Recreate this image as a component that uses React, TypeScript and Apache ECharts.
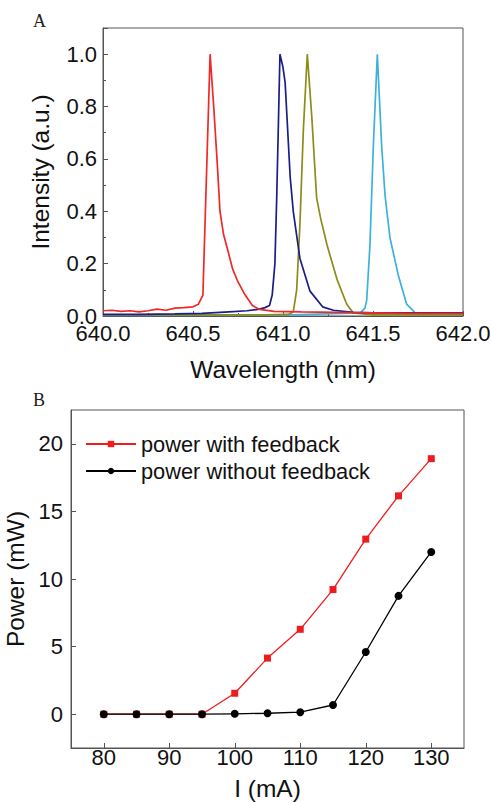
import React, { useEffect, useRef } from "react";
import * as echarts from "echarts";

const redSpectrum: number[][] = [
  [640.0, 0.02], [640.05, 0.022], [640.1, 0.018], [640.15, 0.02], [640.2, 0.016], [640.25, 0.02],
  [640.3, 0.026], [640.35, 0.022], [640.4, 0.03], [640.45, 0.032], [640.5, 0.035], [640.53, 0.045],
  [640.555, 0.08], [640.595, 1.0], [640.615, 0.8], [640.635, 0.58], [640.65, 0.4], [640.67, 0.31],
  [640.69, 0.26], [640.72, 0.18], [640.75, 0.13], [640.79, 0.08], [640.83, 0.04], [640.87, 0.025],
  [640.95, 0.018], [641.1, 0.016], [641.3, 0.014], [641.5, 0.012], [641.7, 0.01], [642.0, 0.01],
];
const navySpectrum: number[][] = [
  [640.0, 0.006], [640.2, 0.006], [640.4, 0.008], [640.55, 0.01], [640.7, 0.016], [640.8, 0.02],
  [640.86, 0.025], [640.9, 0.032], [640.925, 0.04], [640.94, 0.08], [640.955, 0.2], [640.965, 0.45],
  [640.975, 0.75], [640.983, 1.0], [641.0, 0.95], [641.012, 0.89], [641.04, 0.53], [641.057, 0.4],
  [641.094, 0.22], [641.15, 0.095], [641.22, 0.035], [641.28, 0.022], [641.39, 0.014], [641.5, 0.012],
  [641.7, 0.012], [642.0, 0.012],
];
const oliveSpectrum: number[][] = [
  [640.0, 0.004], [640.5, 0.004], [640.9, 0.004], [641.03, 0.006], [641.057, 0.016], [641.076, 0.1],
  [641.094, 0.35], [641.113, 0.71], [641.135, 1.0], [641.16, 0.76], [641.187, 0.45], [641.21, 0.37],
  [641.245, 0.27], [641.3, 0.14], [641.354, 0.045], [641.39, 0.012], [641.5, 0.004], [642.0, 0.004],
];
const cyanSpectrum: number[][] = [
  [640.0, 0.002], [641.0, 0.003], [641.43, 0.012], [641.455, 0.03], [641.465, 0.06], [641.483, 0.27],
  [641.502, 0.65], [641.524, 1.0], [641.548, 0.65], [641.567, 0.46], [641.594, 0.3], [641.64, 0.157],
  [641.687, 0.045], [641.74, 0.008], [642.0, 0.004],
];

const currents = [80, 85, 90, 95, 100, 105, 110, 115, 120, 125, 130];
const powerWithFeedback = [0, 0, 0, 0, 1.55, 4.15, 6.28, 9.22, 12.95, 16.15, 18.9];
const powerWithoutFeedback = [0, 0, 0, 0, 0.03, 0.07, 0.15, 0.68, 4.6, 8.75, 12.0];

const currentTicks = [80, 90, 100, 110, 120, 130];
const powerTicks = [0, 5, 10, 15, 20];

const FONT = "'Liberation Sans', Arial, sans-serif";

export default function App() {
  const ref = useRef<HTMLDivElement>(null);
  useEffect(() => {
    document.body.style.margin = "0";
    const chart = echarts.init(ref.current!, undefined, { renderer: "svg" });
    const axisLine = { show: true, onZero: false, lineStyle: { color: "#555", width: 1 } };
    const label = { color: "#111", fontSize: 22, fontFamily: FONT };
    const nameStyle = { color: "#111", fontSize: 24.5, fontFamily: FONT };
    chart.setOption({
      animation: false,
      backgroundColor: "#fff",
      graphic: [
        { type: "text", left: 33, top: 12, style: { text: "A", font: "18px 'Liberation Serif', 'Times New Roman', serif", fill: "#222" } },
        { type: "text", left: 33, top: 391, style: { text: "B", font: "18px 'Liberation Serif', 'Times New Roman', serif", fill: "#222" } },
      ],
      legend: {
        left: 80,
        top: 428,
        orient: "vertical",
        itemWidth: 50,
        itemHeight: 8,
        itemGap: 5,
        textStyle: { fontSize: 21.8, fontFamily: FONT, color: "#111" },
        data: ["power with feedback", "power without feedback"],
      },
      grid: [
        { left: 103, top: 28, width: 360, height: 288, show: true, borderColor: "#555", borderWidth: 1, outerBoundsMode: "none" },
        { left: 71, top: 410, width: 393, height: 338, show: true, borderColor: "#555", borderWidth: 1, outerBoundsMode: "none" },
      ],
      xAxis: [
        {
          type: "value", gridIndex: 0, min: 640, max: 642, interval: 0.5,
          axisLine, splitLine: { show: false },
          axisTick: { inside: true, length: 5, lineStyle: { color: "#555" } },
          minorTick: { show: true, splitNumber: 2, length: 3, lineStyle: { color: "#555" } },
          axisLabel: { ...label, margin: 6, formatter: (v: number) => v.toFixed(1) },
          name: "Wavelength (nm)", nameLocation: "middle", nameGap: 41, nameTextStyle: nameStyle,
        },
        {
          type: "value", gridIndex: 1, min: 75, max: 135,
          axisLine, splitLine: { show: false },
          axisTick: { inside: true, length: 5, customValues: currentTicks, lineStyle: { color: "#555" } },
          axisLabel: { ...label, margin: -2, customValues: currentTicks },
          name: "I (mA)", nameLocation: "middle", nameGap: 28, nameTextStyle: nameStyle,
        },
      ],
      yAxis: [
        {
          type: "value", gridIndex: 0, min: 0, max: 1.1, interval: 0.2,
          axisLine, splitLine: { show: false },
          axisTick: { inside: true, length: 5, lineStyle: { color: "#555" } },
          minorTick: { show: true, splitNumber: 2, length: 3, lineStyle: { color: "#555" } },
          axisLabel: { ...label, margin: 6, formatter: (v: number) => (v > 1.05 ? "" : v.toFixed(1)) },
          name: "Intensity (a.u.)", nameLocation: "middle", nameGap: 50, nameTextStyle: nameStyle,
        },
        {
          type: "value", gridIndex: 1, min: -2.5, max: 22.5,
          axisLine, splitLine: { show: false },
          axisTick: { inside: true, length: 5, customValues: powerTicks, lineStyle: { color: "#555" } },
          axisLabel: { ...label, margin: 8, customValues: powerTicks },
          name: "Power (mW)", nameLocation: "middle", nameGap: 32, nameTextStyle: nameStyle,
        },
      ],
      series: [
        { type: "line", xAxisIndex: 0, yAxisIndex: 0, data: cyanSpectrum, showSymbol: false, lineStyle: { color: "#3cb2da", width: 1.7 }, itemStyle: { color: "#3cb2da" } },
        { type: "line", xAxisIndex: 0, yAxisIndex: 0, data: oliveSpectrum, showSymbol: false, lineStyle: { color: "#8c8c1a", width: 1.7 }, itemStyle: { color: "#8c8c1a" } },
        { type: "line", xAxisIndex: 0, yAxisIndex: 0, data: navySpectrum, showSymbol: false, lineStyle: { color: "#1c1c8a", width: 1.7 }, itemStyle: { color: "#1c1c8a" } },
        { type: "line", xAxisIndex: 0, yAxisIndex: 0, data: redSpectrum, showSymbol: false, lineStyle: { color: "#f02828", width: 1.7 }, itemStyle: { color: "#f02828" } },
        {
          name: "power with feedback", type: "line", xAxisIndex: 1, yAxisIndex: 1,
          data: currents.map((c, i) => [c, powerWithFeedback[i]]),
          symbol: "rect", symbolSize: 7, lineStyle: { color: "#ee1c1c", width: 1.3 }, itemStyle: { color: "#ee1c1c" },
        },
        {
          name: "power without feedback", type: "line", xAxisIndex: 1, yAxisIndex: 1,
          data: currents.map((c, i) => [c, powerWithoutFeedback[i]]),
          symbol: "circle", symbolSize: 8, lineStyle: { color: "#000", width: 1.3 }, itemStyle: { color: "#000" },
        },
      ],
    });
    return () => chart.dispose();
  }, []);
  return <div ref={ref} style={{ position: "absolute", left: 0, top: 0, width: 492, height: 803 }} />;
}
